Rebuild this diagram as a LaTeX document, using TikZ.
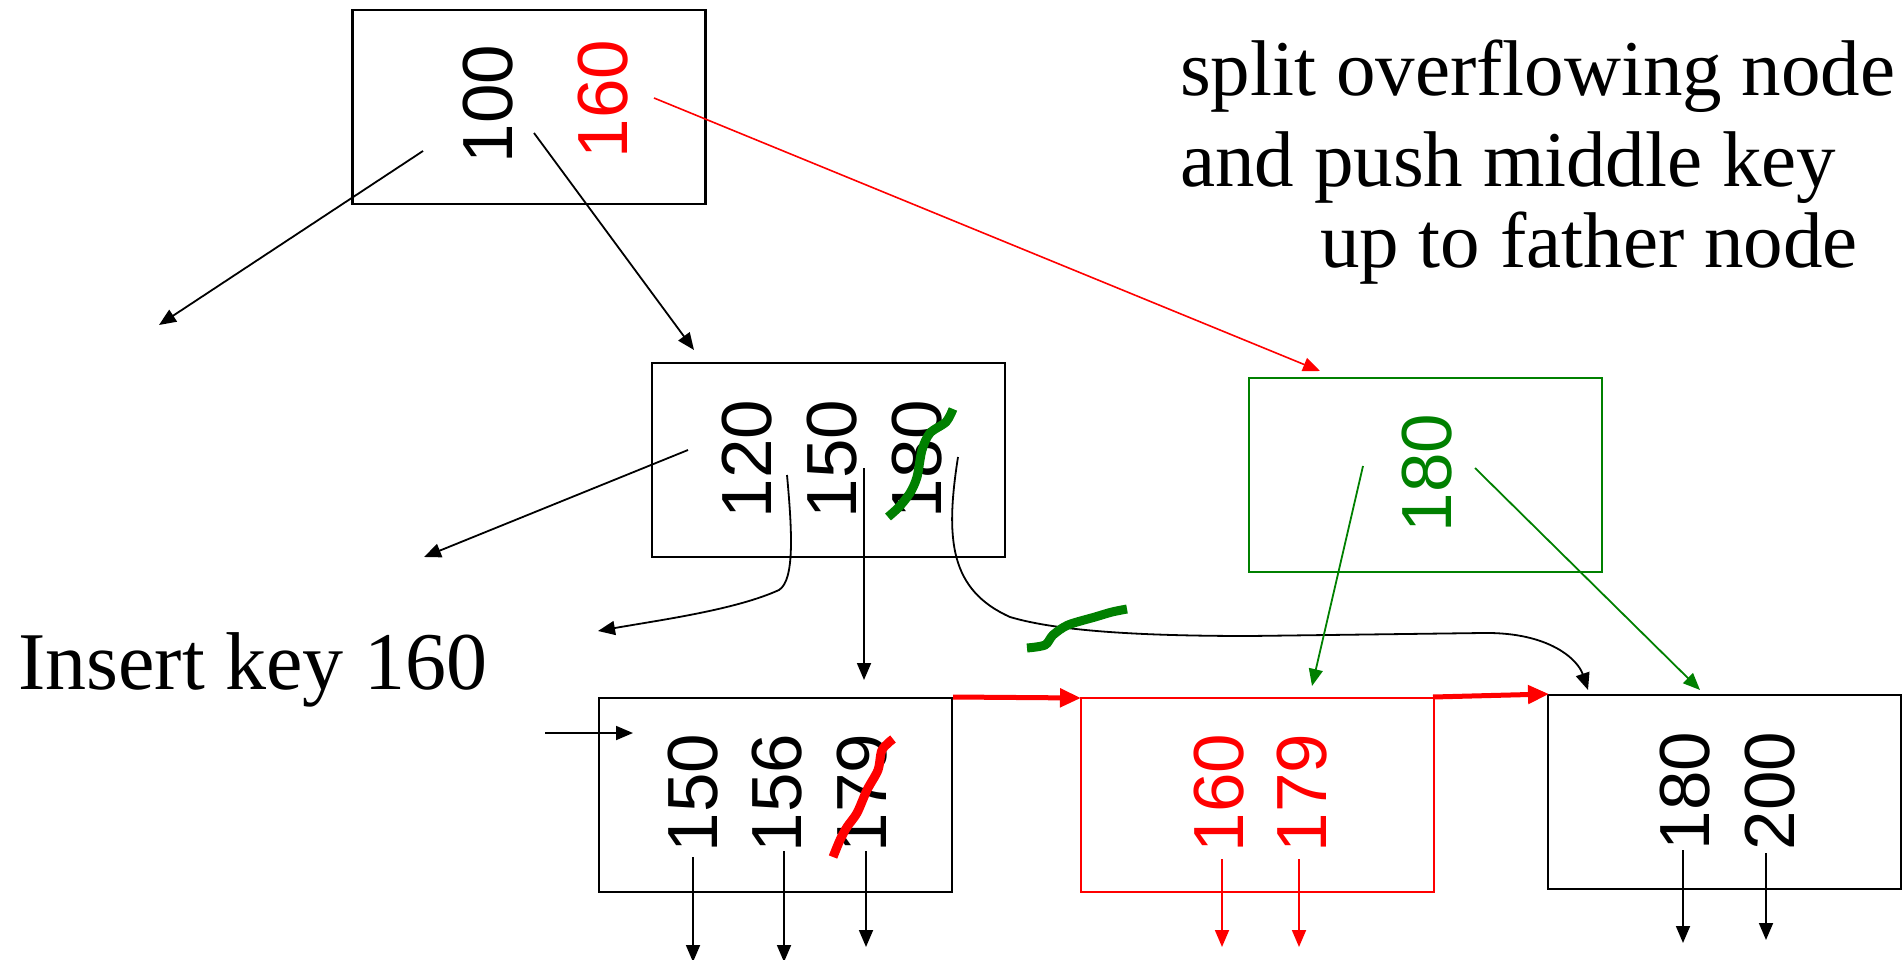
\documentclass[tikz,border=0pt]{standalone}
\usepackage{fontspec}
\setmainfont{Liberation Serif}
\newfontfamily\keyfont{Liberation Sans}
\usetikzlibrary{arrows.meta}
\definecolor{kred}{RGB}{255,0,0}
\definecolor{kgreen}{RGB}{0,128,0}
\begin{document}
\begin{tikzpicture}[x=1pt,y=-1pt,
  box/.style={draw, line width=2.2pt, inner sep=0, minimum width=353pt, minimum height=194pt},
  key/.style={rotate=90, inner sep=0, font=\keyfont\fontsize{71}{71}\selectfont},
  ptr/.style={line width=1.8pt, -{Triangle[length=17pt,width=14pt]}},
  bigptr/.style={kred, line width=5pt, -{Triangle[length=21pt,width=18pt]}},
  scribble/.style={line width=9pt},
  lbl/.style={anchor=base west, inner sep=0}
]
\useasboundingbox (0,0) rectangle (1903,960);

% boxes
\node[box] (topbox) at (529,107) {};
\node[box] (midbox) at (828.5,460) {};
\node[box, draw=kgreen, line width=2pt] (grnbox) at (1425,474.5) {};
\node[box] (blbox) at (775.5,795) {};
\node[box, draw=kred, line width=2pt] (redbox) at (1257,795) {};
\node[box] (rtbox) at (1724.5,792) {};

% keys
\node[key] (k100) at (488,104) {100};
\node[key, text=kred] (k160t) at (603,99) {160};
\node[key] (k120) at (747,459) {120};
\node[key] (k150m) at (832,459) {150};
\node[key] (k180m) at (917,459) {180};
\node[key, text=kgreen] (k180g) at (1427,473) {180};
\node[key] (k150) at (693,793) {150};
\node[key] (k156) at (777,793) {156};
\node[key] (k179) at (862,793) {179};
\node[key, text=kred] (k160r) at (1219,793) {160};
\node[key, text=kred] (k179r) at (1302,793) {179};
\node[key] (k180r) at (1685,791) {180};
\node[key] (k200) at (1770,791) {200};

% texts
\node[lbl, font=\fontsize{79}{79}\selectfont] (t1) at (1180,96) {split overflowing node};
\node[lbl, font=\fontsize{79}{79}\selectfont] (t2) at (1180,187) {and push middle key};
\node[lbl, font=\fontsize{79}{79}\selectfont] (t3) at (1320,267) {up to father node};
\node[lbl, font=\fontsize{82}{82}\selectfont] (ins) at (18,689) {Insert key 160};

% coordinates
\coordinate (a1s) at (423,151); \coordinate (a1e) at (159,325);
\coordinate (a2s) at (534,133); \coordinate (a2e) at (694,350);
\coordinate (a3s) at (654,98);  \coordinate (a3e) at (1320,371);
\coordinate (b1s) at (688,450); \coordinate (b1e) at (424,557);
\coordinate (b2s) at (787,475); \coordinate (b2m) at (779,590); \coordinate (b2e) at (598,631);
\coordinate (b3s) at (864,468); \coordinate (b3e) at (864,680);
\coordinate (b4s) at (958,457); \coordinate (b4m) at (1010,617); \coordinate (b4n) at (1483,633); \coordinate (b4e) at (1588,690);
\coordinate (g1s) at (1363,466); \coordinate (g1e) at (1312,686);
\coordinate (g2s) at (1475,468); \coordinate (g2e) at (1700,690);
\coordinate (ins1) at (545,733); \coordinate (ins2) at (633,733);
\coordinate (r1s) at (953,697); \coordinate (r1e) at (1081,698);
\coordinate (r2s) at (1433,697); \coordinate (r2e) at (1549,694);

% top box pointers
\draw[ptr] (a1s) -- (a1e);
\draw[ptr] (a2s) -- (a2e);
\draw[ptr, kred, line width=1.6pt] (a3s) -- (a3e);

% middle box pointers
\draw[ptr] (b1s) -- (b1e);
\draw[ptr] (b2s) .. controls (792,530) and (795,580) .. (b2m) .. controls (735,610) and (660,620) .. (b2e);
\draw[ptr] (b3s) -- (b3e);
\draw[ptr] (b4s) .. controls (945,540) and (950,590) .. (b4m) .. controls (1060,632) and (1150,636) .. (1250,636) -- (b4n) .. controls (1550,632) and (1578,660) .. (b4e);

% green box pointers
\draw[ptr, kgreen] (g1s) -- (g1e);
\draw[ptr, kgreen] (g2s) -- (g2e);

% insert arrow
\draw[ptr] (ins1) -- (ins2);

% sibling links
\draw[bigptr] (r1s) -- (r1e);
\draw[bigptr] (r2s) -- (r2e);

% leaf pointers
\coordinate (l1s) at (693,857); \coordinate (l1e) at (693,962);
\coordinate (l2s) at (784,851); \coordinate (l2e) at (784,962);
\coordinate (l3s) at (866,851); \coordinate (l3e) at (866,947);
\coordinate (l4s) at (1222,859); \coordinate (l4e) at (1222,947);
\coordinate (l5s) at (1299,859); \coordinate (l5e) at (1299,947);
\coordinate (l6s) at (1683,850); \coordinate (l6e) at (1683,943);
\coordinate (l7s) at (1766,853); \coordinate (l7e) at (1766,940);
\draw[ptr] (l1s) -- (l1e);
\draw[ptr] (l2s) -- (l2e);
\draw[ptr] (l3s) -- (l3e);
\draw[ptr, kred] (l4s) -- (l4e);
\draw[ptr, kred] (l5s) -- (l5e);
\draw[ptr] (l6s) -- (l6e);
\draw[ptr] (l7s) -- (l7e);

% scribbles
\draw[scribble, kgreen] plot[smooth] coordinates {(953,409) (946,422) (930,433) (922,450) (917,477) (910,493) (899,507) (888,517)};
\draw[scribble, kgreen] plot[smooth] coordinates {(1027,648) (1045,645) (1053,635) (1068,625) (1095,617) (1112,612) (1127,609)};
\draw[scribble, kred] plot[smooth] coordinates {(893,739) (882,750) (878,770) (867,790) (857,813) (847,827) (840,840) (833,857)};
\end{tikzpicture}
\end{document}
